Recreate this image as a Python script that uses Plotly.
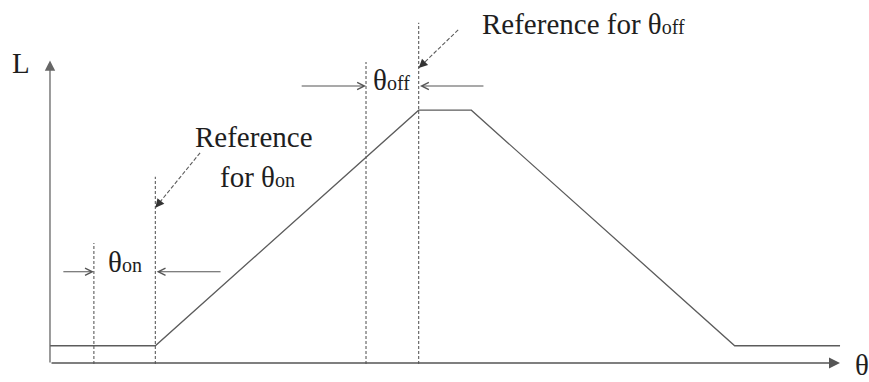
import plotly.graph_objects as go

# Inductance profile of one phase versus rotor angle (electrical degrees)
theta_pts = [0, 24, 84, 96, 156, 180]
L_pts = [0.6, 0.6, 8.4, 8.4, 0.6, 0.6]

# Switching angles
theta_on = 10          # turn-on angle (advanced)
theta_on_ref = 24      # reference for turn-on: start of rising inductance
theta_off = 72         # turn-off angle (advanced)
theta_off_ref = 84     # reference for turn-off: start of maximum inductance

# Upper ends of the dashed marker lines
marker_x = [theta_on, theta_on_ref, theta_off, theta_off_ref]
marker_top = [4.0, 6.2, 10.0, 11.3]

# Text labels
SUB = "<span style=\"font-size:20px\">{}</span>"
lbl_L = "L"
lbl_theta = "θ"
lbl_on = "θ" + SUB.format("on")
lbl_off = "θ" + SUB.format("off")
lbl_ref_off = "Reference for θ" + SUB.format("off")
lbl_ref_on_1 = "Reference"
lbl_ref_on_2 = "for θ" + SUB.format("on")

LINE = "#5c5c5c"
TXT = "#1e1e1e"
FONT = dict(family="Liberation Serif", size=29, color=TXT)

fig = go.Figure()

# inductance curve
fig.add_trace(go.Scatter(x=theta_pts, y=L_pts, mode="lines",
                         line=dict(color=LINE, width=1.3), hoverinfo="skip"))

# dashed angle markers
for xv, top in zip(marker_x, marker_top):
    fig.add_trace(go.Scatter(x=[xv, xv], y=[0, top], mode="lines",
                             line=dict(color=LINE, width=1.1, dash="3px,2px"),
                             hoverinfo="skip"))

# dashed pointer lines from the reference labels
fig.add_trace(go.Scatter(x=[93.0, theta_off_ref], y=[11.06, 9.8], mode="lines",
                         line=dict(color=LINE, width=1.1, dash="4px,2px"), hoverinfo="skip"))
fig.add_trace(go.Scatter(x=[34.2, theta_on_ref], y=[6.99, 5.17], mode="lines",
                         line=dict(color=LINE, width=1.1, dash="4px,2px"), hoverinfo="skip"))

ann = []
# axes with arrowheads
ann.append(dict(x=0, y=10.05, ax=0, ay=0, xref="x", yref="y", axref="x", ayref="y",
                showarrow=True, arrowhead=2, arrowsize=1.6, arrowwidth=1.3,
                arrowcolor="#666666", text=""))
ann.append(dict(x=180, y=0.03, ax=0, ay=0.03, xref="x", yref="y", axref="x", ayref="y",
                showarrow=True, arrowhead=2, arrowsize=1.7, arrowwidth=1.3,
                arrowcolor="#555555", text=""))
# heads of the dashed pointers
ann.append(dict(x=theta_off_ref, y=9.8, ax=6, ay=-5.7, xref="x", yref="y",
                showarrow=True, arrowhead=2, arrowsize=1.6, arrowwidth=1.1,
                arrowcolor="#333333", text=""))
ann.append(dict(x=theta_on_ref, y=5.17, ax=5.2, ay=-6.4, xref="x", yref="y",
                showarrow=True, arrowhead=2, arrowsize=1.6, arrowwidth=1.1,
                arrowcolor="#333333", text=""))
# width arrows for theta_on and theta_off
for x_tip, x_tail, yv in [(theta_on, 2.7, 3.05), (theta_on_ref + 0.3, 39.2, 3.05),
                          (theta_off, 57.0, 9.2), (theta_off_ref + 0.3, 99.1, 9.2)]:
    ann.append(dict(x=x_tip, y=yv, ax=x_tail, ay=yv, xref="x", yref="y",
                    axref="x", ayref="y", showarrow=True, arrowhead=5,
                    arrowsize=1.3, arrowwidth=1.1, arrowcolor="#555555", text=""))

# text labels
def label(text, x, y, xanchor="left", yanchor="middle"):
    return dict(x=x, y=y, xref="x", yref="y", text=text, showarrow=False,
                xanchor=xanchor, yanchor=yanchor, font=FONT)

ann.append(label(lbl_L, -9.0, 9.95, "left"))
ann.append(label(lbl_theta, 183.0, -0.05, "left"))
ann.append(label(lbl_ref_off, 98.0, 11.26, "left"))
ann.append(label(lbl_ref_on_1, 46.5, 7.5, "center"))
ann.append(label(lbl_ref_on_2, 38.2, 6.19, "left"))
ann.append(label(lbl_off, 73.2, 9.4, "left"))
ann.append(label(lbl_on, 12.8, 3.38, "left"))

fig.update_layout(
    width=869, height=382,
    margin=dict(l=0, r=0, t=0, b=0),
    paper_bgcolor="white", plot_bgcolor="white",
    showlegend=False,
    xaxis=dict(range=[-11.39, 186.6], visible=False, fixedrange=True),
    yaxis=dict(range=[-0.6, 12.05], visible=False, fixedrange=True),
    annotations=ann,
)

fig.write_html("out.html")
